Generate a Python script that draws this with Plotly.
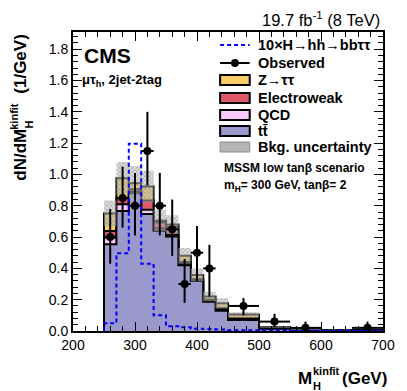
import numpy as np
import plotly.graph_objects as go

# binning (GeV) and per-bin contents (1/GeV)
edges = [250, 270, 290, 310, 330, 350, 370, 390, 410, 430, 450, 500, 550, 600, 650, 700]
ttbar = [0.554, 0.767, 0.88, 0.748, 0.64, 0.603, 0.42, 0.32, 0.187, 0.13, 0.07, 0.015, 0.006, 0.004, 0.003]
qcd = [0.041, 0.043, 0.01, 0.026, 0.015, 0.012, 0.01, 0.005, 0.008, 0.01, 0.005, 0.003, 0.001, 0.0005, 0.0005]
ewk = [0.043, 0.038, 0.015, 0.059, 0.04, 0.05, 0.01, 0.005, 0.005, 0.005, 0.005, 0.002, 0.001, 0.0005, 0.0005]
ztt = [0.112, 0.128, 0.039, 0.09, 0.01, 0.015, 0.04, 0.028, 0.02, 0.032, 0.025, 0.005, 0.002, 0.001, 0.001]
bkg_unc = [0.083, 0.104, 0.11, 0.10, 0.07, 0.06, 0.05, 0.042, 0.03, 0.033, 0.015, 0.005, 0.003, 0.002, 0.002]
signal = [0.05, 0.497, 1.196, 0.43, 0.10, 0.03, 0.024, 0.015, 0.012, 0.01, 0.005, 0.003, 0.002, 0.001, 0.001]
nan = np.nan
observed = [0.60, 0.85, 0.80, 1.15, 0.80, 0.65, 0.30, 0.50, 0.40, nan, 0.16, 0.06, 0.02, nan, 0.02]
obs_up = [0.18, 0.20, 0.21, 0.25, 0.21, 0.19, 0.16, 0.17, 0.15, nan, 0.05, 0.05, 0.04, nan, 0.04]
obs_dn = [0.17, 0.19, 0.19, 0.22, 0.19, 0.17, 0.12, 0.18, 0.18, nan, 0.06, 0.035, 0.017, nan, 0.017]

legend_names = ["10×H→hh→bbττ", "Observed", "Z→ττ", "Electroweak", "QCD", "tt̄", "Bkg. uncertainty"]

edges_a = np.array(edges, dtype=float)
centers = 0.5 * (edges_a[1:] + edges_a[:-1])
halfw = 0.5 * (edges_a[1:] - edges_a[:-1])

c_tt = np.array(ttbar)
c_qcd = c_tt + np.array(qcd)
c_ewk = c_qcd + np.array(ewk)
c_ztt = c_ewk + np.array(ztt)
unc = np.array(bkg_unc)

FONT = "Liberation Sans"
COL_ZTT = "rgb(248,206,104)"
COL_EWK = "rgb(222,90,106)"
COL_QCD = "rgb(250,202,255)"
COL_TT = "rgb(155,152,204)"
COL_UNC = "rgb(120,120,120)"
DASH = "4px,3px"


def step(vals):
    # hv step: start at zero on the left edge, repeat the last value at the right edge
    x = [edges[0]] + list(edges)
    y = [0.0] + list(vals) + [vals[-1]]
    return x, y


fig = go.Figure()

for vals, col in [(c_ztt, COL_ZTT), (c_ewk, COL_EWK), (c_qcd, COL_QCD), (c_tt, COL_TT)]:
    x, y = step(vals)
    fig.add_trace(go.Scatter(x=x, y=y, mode="lines", line_shape="hv",
                             line=dict(color="black", width=2),
                             fill="tozeroy", fillcolor=col, showlegend=False))

# uncertainty band
xl, yl = step(c_ztt - unc)
xu, yu = step(c_ztt + unc)
fig.add_trace(go.Scatter(x=xl[1:], y=yl[1:], mode="lines", line_shape="hv",
                         line=dict(width=0), showlegend=False))
fig.add_trace(go.Scatter(x=xu[1:], y=yu[1:], mode="lines", line_shape="hv",
                         line=dict(width=0), fill="tonexty", fillcolor="rgba(0,0,0,0)",
                         fillpattern=dict(shape="x", fgcolor=COL_UNC,
                                          bgcolor="rgba(190,190,190,0.5)", size=3, solidity=0.45),
                         showlegend=False))

# signal
xs, ys = step(signal)
fig.add_trace(go.Scatter(x=xs, y=ys, mode="lines", line_shape="hv",
                         line=dict(color="blue", width=2, dash=DASH), showlegend=False))

# observed
fig.add_trace(go.Scatter(x=centers, y=observed, mode="markers",
                         marker=dict(color="black", size=8),
                         error_x=dict(type="data", array=halfw, color="black", thickness=2, width=0),
                         error_y=dict(type="data", array=obs_up, arrayminus=obs_dn, symmetric=False,
                                      color="black", thickness=2, width=0),
                         showlegend=False))

# page has an 8px body margin, so the figure is 8px smaller and the paper
# coordinates below are given in page pixels
L, R, T, B = 65, 20, 24, 60
W, H = 399, 383
pw, ph = W - L - R, H - T - B


def px(xp):
    return (xp - 73) / pw


def py(yp):
    return (331 - yp) / ph


ann = []
shapes = []


def text(s, xp, yp, size, bold=True, xa="left", angle=0):
    ann.append(dict(text=f"<b>{s}</b>" if bold else s, x=px(xp), y=py(yp), xref="paper", yref="paper",
                    xanchor=xa, yanchor="middle", showarrow=False, textangle=angle,
                    font=dict(family=FONT, size=size, color="black")))


text("19.7 fb<sup>-1</sup> (8 TeV)", 386, 19, 16.5, bold=False, xa="right")
text("CMS", 82, 56, 21)
text("μτ<sub>h</sub>, 2jet-2tag", 80, 80, 13)
text("MSSM low tanβ scenario", 224, 168, 12)
text("m<sub>H</sub>= 300 GeV, tanβ= 2", 224, 186, 12)
# x title
text("M", 299, 378, 17)
text("kinfit", 314, 371, 11)
text("H", 314, 386, 11)
text("(GeV)", 343, 378, 17)
# y title
text("dN/dM", 19, 155, 17, xa="center", angle=-90)
text("kinfit", 13, 116, 11, xa="center", angle=-90)
text("H", 28, 125, 11, xa="center", angle=-90)
text("(1/GeV)", 19, 64, 17, xa="center", angle=-90)

# legend
leg_y = [45, 63, 80, 98, 115, 131, 147]
gx0, gx1 = 222, 252
for name, yc in zip(legend_names, leg_y):
    text(name, 258, yc, 14.5)
shapes.append(dict(type="line", xref="paper", yref="paper", x0=px(gx0), x1=px(gx1), y0=py(45), y1=py(45),
                   line=dict(color="blue", width=2, dash=DASH)))
shapes.append(dict(type="line", xref="paper", yref="paper", x0=px(gx0), x1=px(gx1), y0=py(63), y1=py(63),
                   line=dict(color="black", width=2)))
shapes.append(dict(type="circle", xref="paper", yref="paper", x0=px(233), x1=px(241), y0=py(59), y1=py(67),
                   fillcolor="black", line=dict(color="black", width=0)))
for col, yc in zip([COL_ZTT, COL_EWK, COL_QCD, COL_TT], leg_y[2:6]):
    shapes.append(dict(type="rect", xref="paper", yref="paper", x0=px(gx0), x1=px(gx1),
                       y0=py(yc + 5), y1=py(yc - 5), fillcolor=col, line=dict(color="black", width=2)))
shapes.append(dict(type="rect", xref="paper", yref="paper", x0=px(gx0), x1=px(gx1),
                   y0=py(leg_y[6] + 5), y1=py(leg_y[6] - 5), fillcolor="rgb(180,180,180)",
                   line=dict(color="rgb(140,140,140)", width=1)))

axis_common = dict(showline=True, linecolor="black", linewidth=2, mirror="allticks",
                   ticks="inside", ticklen=9, tickwidth=1, tickcolor="black",
                   showgrid=False, zeroline=False,
                   tickfont=dict(family=FONT, size=14, color="black"))

fig.update_layout(
    width=W, height=H,
    margin=dict(l=L, r=R, t=T, b=B),
    paper_bgcolor="white", plot_bgcolor="white",
    showlegend=False,
    xaxis=dict(range=[200, 700], tick0=200, dtick=100,
               minor=dict(dtick=20, ticks="inside", ticklen=5, tickcolor="black"), **axis_common),
    yaxis=dict(range=[0, 1.91], tick0=0, dtick=0.2, tickformat=".1f",
               minor=dict(dtick=0.04, ticks="inside", ticklen=5, tickcolor="black"), **axis_common),
    annotations=ann,
    shapes=shapes,
    font=dict(family=FONT),
)

fig.write_html("out.html")
